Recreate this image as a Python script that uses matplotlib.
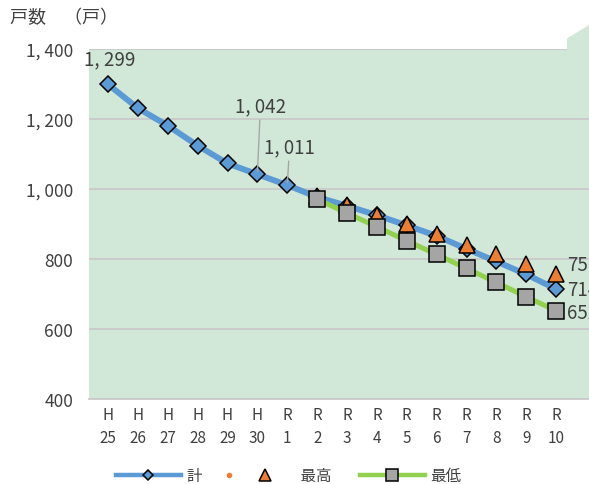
import matplotlib
matplotlib.use('Agg')
import matplotlib.pyplot as plt
from matplotlib.lines import Line2D
from matplotlib.patches import Polygon
from matplotlib.legend_handler import HandlerTuple

plt.rcParams['font.family'] = ['Noto Sans CJK JP', 'DejaVu Sans']

# data
years = ['H\n25', 'H\n26', 'H\n27', 'H\n28', 'H\n29', 'H\n30', 'R\n1', 'R\n2',
         'R\n3', 'R\n4', 'R\n5', 'R\n6', 'R\n7', 'R\n8', 'R\n9', 'R\n10']
total = [1299, 1231, 1181, 1124, 1073, 1042, 1011, 977,
         952, 925, 896, 866, 829, 793, 756, 714]
high = [980, 954, 927, 900, 871, 841, 814, 786, 756]
low = [971, 931, 892, 852, 813, 773, 733, 692, 652]
yticks = [400, 600, 800, 1000, 1200, 1400]

blue = '#5b9bd5'
orange = '#ed7d31'
gray = '#a5a5a5'
green = '#92d050'
bg = '#d1e8d8'
txt = '#404040'

fig = plt.figure(figsize=(5.89, 4.85), dpi=100)
ax = fig.add_axes([89 / 589, 85 / 485, 500 / 589, 350 / 485])
ax.set_facecolor(bg)

x_all = list(range(len(years)))
x_new = x_all[7:]

ax.plot(x_all, total, color=blue, lw=4.3, marker='D', ms=7.8, mfc=blue,
        mec='black', mew=1.1, zorder=3, clip_on=False)
ax.plot(x_new, high, ls='none', marker='^', ms=12, mfc=orange,
        mec='black', mew=1.1, zorder=4, clip_on=False)
ax.plot(x_new, low, color=green, lw=3.6, marker='s', ms=11.5, mfc=gray,
        mec='black', mew=1.1, zorder=5, clip_on=False)

ax.set_xlim(-0.636, 16.1)
ax.set_ylim(400, 1400)
ax.set_xticks(x_all)
ax.set_xticklabels(years, fontsize=11, color=txt, linespacing=1.45)
ax.set_yticks(yticks)
ax.set_yticklabels([f'{v:,}'.replace(',', ', ') for v in yticks],
                   fontsize=12.5, color=txt)
ax.tick_params(axis='both', length=0)
ax.tick_params(axis='y', pad=11.5)
ax.tick_params(axis='x', pad=5)
ax.grid(axis='y', color='#c9c9c9', lw=1.3)
ax.set_axisbelow(True)
for s in ['top', 'right', 'left']:
    ax.spines[s].set_visible(False)
ax.spines['bottom'].set_color('#c9c9c9')
ax.spines['bottom'].set_linewidth(1.3)

def fmt(v):
    return f'{v:,}'.replace(',', ', ')

lab_kw = dict(fontsize=13.5, color=txt)
ax.annotate(fmt(total[0]), (0, total[0]), xytext=(1.2, 18.5),
            textcoords='offset points', ha='center', va='center', **lab_kw)
ax.annotate(fmt(total[5]), (5, total[5]), xytext=(2.2, 49.5),
            textcoords='offset points', ha='center', va='center',
            arrowprops=dict(arrowstyle='-', color='#a6a6a6', lw=1.0,
                            shrinkA=1, shrinkB=2), **lab_kw)
ax.annotate(fmt(total[6]), (6, total[6]), xytext=(1.7, 27.9),
            textcoords='offset points', ha='center', va='center',
            arrowprops=dict(arrowstyle='-', color='#a6a6a6', lw=1.0,
                            shrinkA=1, shrinkB=2), **lab_kw)
ax.annotate(fmt(high[-1]), (x_new[-1], high[-1]), xytext=(8.0, 7.0),
            textcoords='offset points', ha='left', va='center', **lab_kw)
ax.annotate(fmt(total[-1]), (x_all[-1], total[-1]), xytext=(8.0, 0),
            textcoords='offset points', ha='left', va='center', **lab_kw)
ax.annotate(fmt(low[-1]), (x_new[-1], low[-1]), xytext=(8.0, -1.4),
            textcoords='offset points', ha='left', va='center', **lab_kw)

# green shape poking out at the top right
fig.add_artist(Polygon([[567 / 589, 445.5 / 485], [1, 459 / 485],
                        [1, 433 / 485], [567 / 589, 433 / 485]],
                       closed=True, transform=fig.transFigure,
                       facecolor=bg, edgecolor='none', zorder=6))

fig.text(10 / 589, 1 - 18 / 485, '戸数　（戸）', fontsize=13, color=txt,
         ha='left', va='center')

h1 = Line2D([], [], color=blue, lw=3.2, marker='D', ms=5.5, mfc=blue,
            mec='black', mew=1.1)
h2 = (Line2D([], [], ls='none', marker='o', ms=3, color=orange),
      Line2D([], [], ls='none', marker='^', ms=9, mfc=orange, mec='black',
             mew=1.1))
h3 = Line2D([], [], color=green, lw=3.2, marker='s', ms=8.5, mfc=gray,
            mec='black', mew=1.1)
fig.legend([h1, h2, h3], ['計', '　最高　', '最低'], loc='center',
           bbox_to_anchor=(0.49, 1 - 477 / 485), ncol=3, frameon=False,
           handlelength=4.2, handletextpad=0.35, columnspacing=0.8,
           prop={'size': 11.2}, labelcolor=txt,
           handler_map={tuple: HandlerTuple(ndivide=None)})

fig.savefig('out.png', dpi=100)
